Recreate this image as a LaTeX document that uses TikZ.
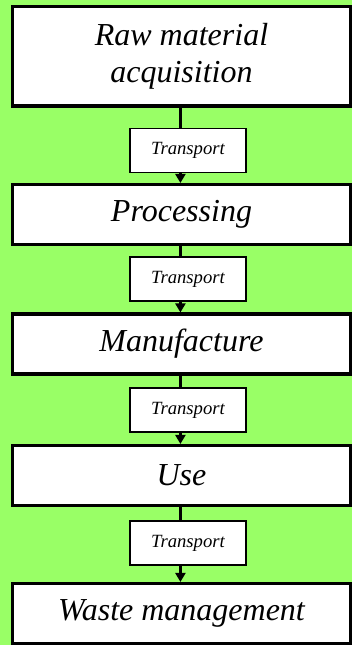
\documentclass[tikz,border=0pt]{standalone}
\usepackage{fontspec}
\setmainfont{Liberation Serif}
\usetikzlibrary{arrows.meta}
\definecolor{bg}{RGB}{153,255,102}
\begin{document}
\begin{tikzpicture}[x=0.75pt,y=-0.75pt,
  mainbox/.style={draw, line width=2.3pt, fill=white, minimum width=253.5pt,
    minimum height=45pt, inner sep=0pt, align=center,
    font=\fontsize{24}{27.6}\selectfont\itshape},
  tbox/.style={draw, line width=1.4pt, fill=white, minimum width=87pt,
    minimum height=33pt, inner sep=0pt, font=\fontsize{14}{16}\selectfont\itshape},
  conn/.style={line width=2.5pt, -{Triangle[length=6.8pt,width=7.5pt]}}]
\fill[bg] (0,0) rectangle (352,645);
\useasboundingbox (0,0) rectangle (352,645);
\node[mainbox, minimum height=74.6pt] (b1) at (181.5,56.25) {Raw material\\acquisition};
\node[mainbox] (b2) at (181.5,214.5) {Processing};
\node[mainbox] (b3) at (181.5,344) {Manufacture};
\node[mainbox] (b4) at (181.5,475.5) {Use};
\node[mainbox] (b5) at (181.5,613.5) {Waste management};
\foreach \a/\b in {b1/b2,b2/b3,b3/b4,b4/b5}
  \draw[conn] ([xshift=-0.8pt]\a.south) -- ([xshift=-0.8pt]\b.north);
\node[tbox] (t1) at (188,150.5) {Transport};
\node[tbox] (t2) at (188,279) {Transport};
\node[tbox] (t3) at (188,410) {Transport};
\node[tbox] (t4) at (188,543) {Transport};
\end{tikzpicture}
\end{document}
